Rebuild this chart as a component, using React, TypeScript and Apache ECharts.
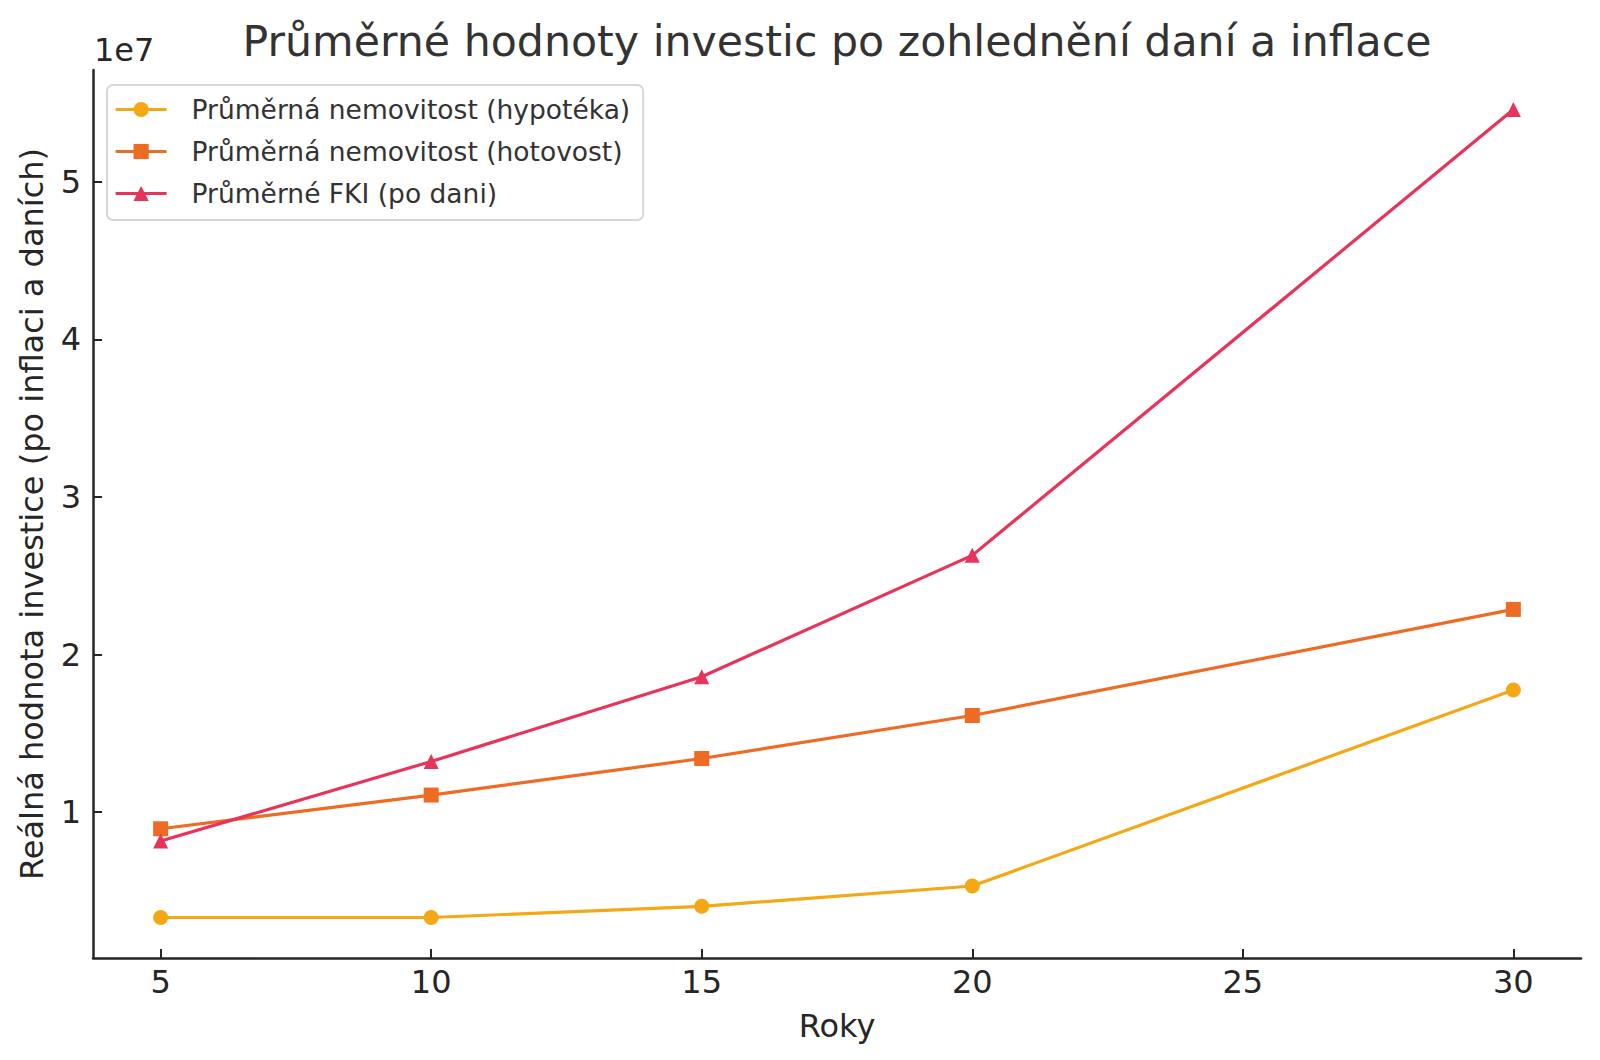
import { useEffect, useRef } from "react";
import * as echarts from "echarts";

const years = [5, 10, 15, 20, 30];
const tickYears = [5, 10, 15, 20, 25, 30];
const tickValues = [10000000, 20000000, 30000000, 40000000, 50000000];

const mortgage = [3320000, 3320000, 4030000, 5320000, 17750000];
const cash = [8950000, 11090000, 13410000, 16140000, 22870000];
const fund = [8170000, 13220000, 18600000, 26300000, 54590000];

const seriesNames = [
  "Průměrná nemovitost (hypotéka)",
  "Průměrná nemovitost (hotovost)",
  "Průměrné FKI (po dani)",
];
const colors = ["#F5A816", "#EE6B24", "#E8335A"];
const symbols = ["circle", "rect", "triangle"];

const FONT = "DejaVu Sans";
const INK = "#262626";

const App = () => {
  const chartRef = useRef<HTMLDivElement>(null);

  useEffect(() => {
    if (!chartRef.current) return;
    const chart = echarts.init(chartRef.current, undefined, { renderer: "svg" });

    const data = [mortgage, cash, fund];

    const option = {
      animation: false,
      backgroundColor: "#ffffff",
      textStyle: { fontFamily: FONT },
      title: {
        text: "Průměrné hodnoty investic po zohlednění daní a inflace",
        left: 832,
        textAlign: "center",
        top: 14,
        textStyle: {
          fontFamily: FONT,
          fontSize: 42.7,
          fontWeight: "normal",
          color: "#333333",
        },
      },
      legend: {
        orient: "vertical",
        left: 107,
        top: 85,
        padding: [11, 13, 13, 7],
        itemWidth: 51,
        itemHeight: 19,
        itemGap: 15,
        backgroundColor: "rgba(255,255,255,0.8)",
        borderColor: "#d6d6d6",
        borderWidth: 2,
        borderRadius: 6,
        lineStyle: { width: 3.2 },
        textStyle: {
          fontFamily: FONT,
          fontSize: 26.5,
          color: "#333333",
          padding: [0, 0, 0, 20],
        },
        data: seriesNames,
      },
      grid: { left: 93, right: 19, top: 70, bottom: 102 },
      xAxis: {
        type: "value",
        min: 3.75,
        max: 31.25,
        name: "Roky",
        nameLocation: "middle",
        nameGap: 52,
        nameTextStyle: { fontFamily: FONT, fontSize: 32, color: INK },
        axisLine: { show: true, lineStyle: { color: INK, width: 2.5 } },
        axisTick: {
          show: true,
          inside: true,
          length: 9,
          customValues: tickYears,
          lineStyle: { color: INK, width: 2 },
        },
        axisLabel: {
          customValues: tickYears,
          fontFamily: FONT,
          fontSize: 32,
          color: INK,
          margin: 8,
        },
        splitLine: { show: false },
      },
      yAxis: {
        type: "value",
        min: 750000,
        max: 57100000,
        name: "Reálná hodnota investice (po inflaci a daních)",
        nameLocation: "middle",
        nameRotate: 90,
        nameGap: 45,
        nameTextStyle: { fontFamily: FONT, fontSize: 32, color: INK },
        axisLine: { show: true, lineStyle: { color: INK, width: 2.5 } },
        axisTick: {
          show: true,
          inside: true,
          length: 9,
          customValues: tickValues,
          lineStyle: { color: INK, width: 2 },
        },
        axisLabel: {
          customValues: tickValues,
          fontFamily: FONT,
          fontSize: 32,
          color: INK,
          margin: 12,
          formatter: (v: number) => String(Math.round(v / 1e7)),
        },
        splitLine: { show: false },
      },
      graphic: [
        {
          type: "text",
          left: 94,
          top: 34,
          style: {
            text: "1e7",
            fontFamily: FONT,
            fontSize: 32,
            fill: INK,
          },
        },
      ],
      series: seriesNames.map((name, i) => ({
        name,
        type: "line",
        data: years.map((y, j) => [y, data[i][j]]),
        symbol: symbols[i],
        symbolSize: 15,
        showSymbol: true,
        color: colors[i],
        lineStyle: { width: 3.2, color: colors[i] },
        itemStyle: { color: colors[i] },
        z: 3 + i,
      })),
    };

    chart.setOption(option);

    return () => {
      chart.dispose();
    };
  }, []);

  return (
    <div
      ref={chartRef}
      style={{ position: "absolute", left: 0, top: 0, width: "1600px", height: "1060px" }}
    />
  );
};

export default App;
